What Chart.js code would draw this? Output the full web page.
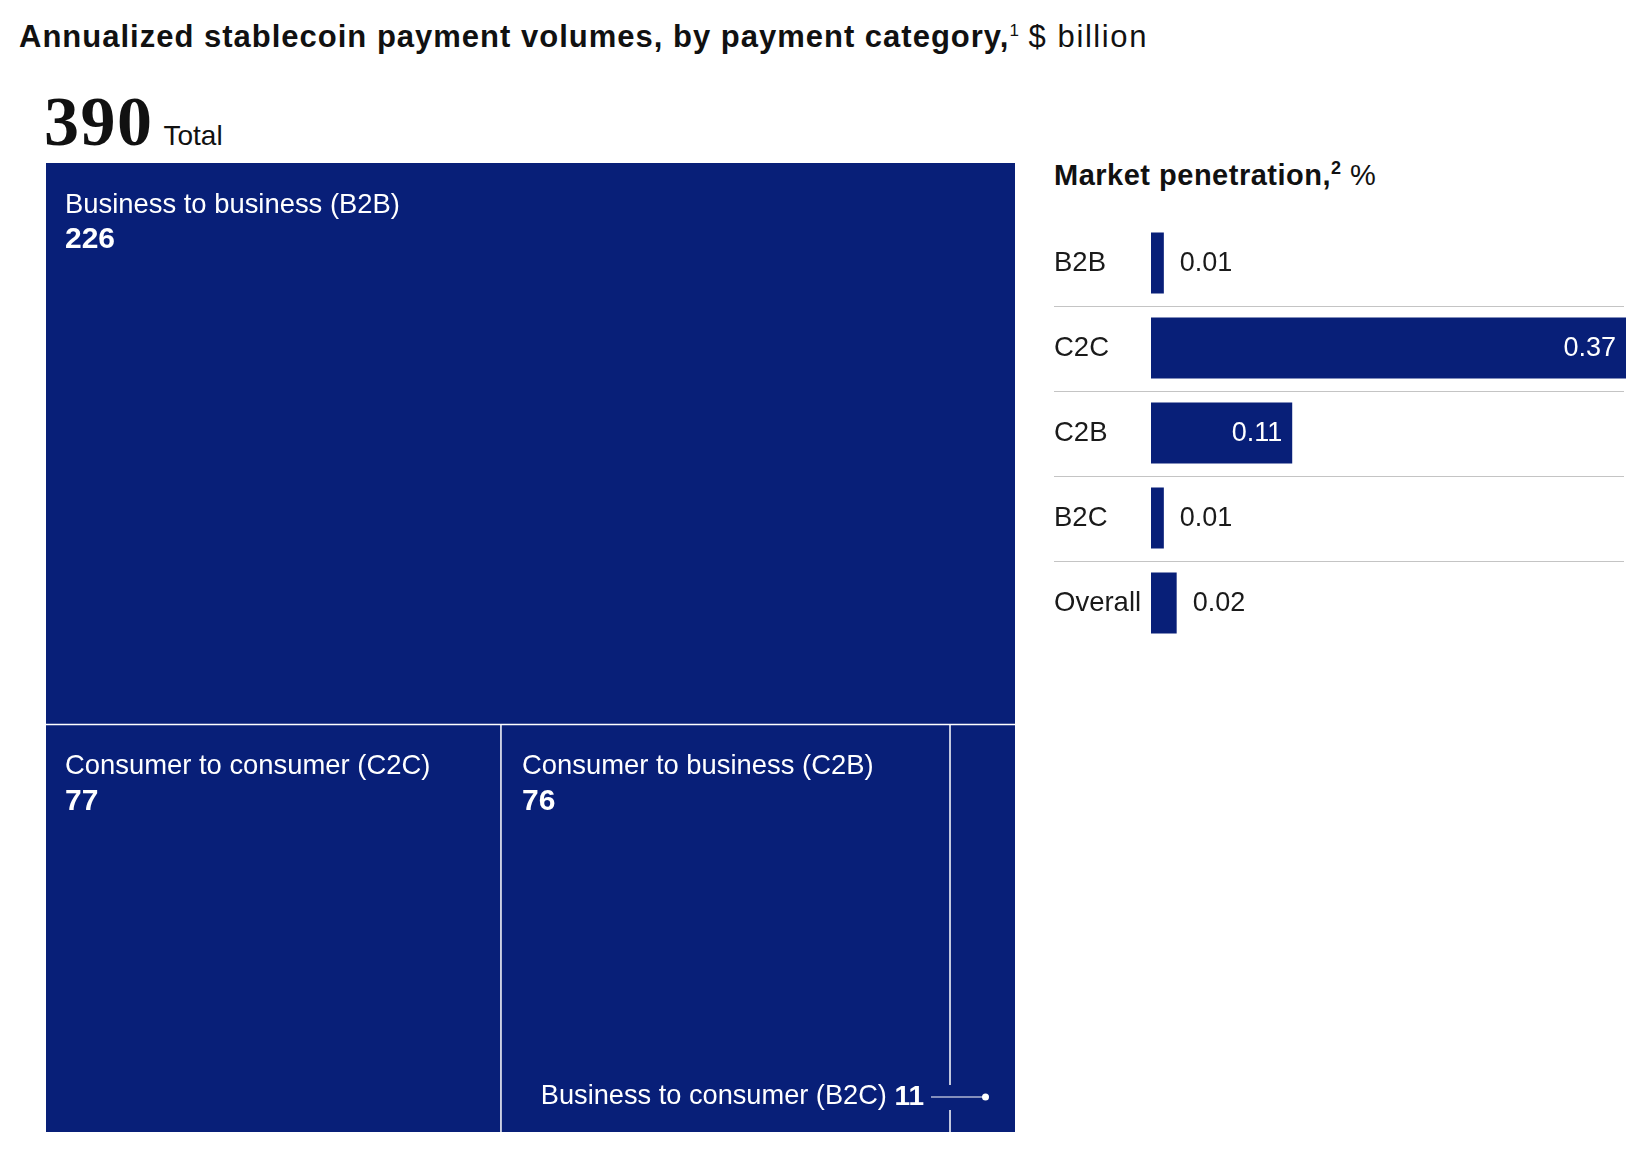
<!DOCTYPE html>
<html>
<head>
<meta charset="utf-8">
<script src="https://cdn.jsdelivr.net/npm/chart.js@4.4.1/dist/chart.umd.min.js"></script>
<style>
  body { margin:0; background:#fff; width:1643px; height:1156px; position:relative; overflow:hidden;
         font-family:"Liberation Sans", Arial, sans-serif; color:#111; }
  #titulo { position:absolute; left:19px; top:19px; font-size:31px; line-height:36px; font-weight:bold; white-space:nowrap; letter-spacing:1px; }
  #titulo sup { font-size:17px; font-weight:normal; vertical-align:11px; line-height:0; letter-spacing:0; }
  #titulo .unidad { font-weight:normal; letter-spacing:1.6px; }
  #total { position:absolute; left:44px; top:82px; white-space:nowrap; line-height:80px; }
  #total .numero { font-family:"Liberation Serif", serif; font-weight:bold; font-size:70px; letter-spacing:1.5px; }
  #total .texto { font-size:28px; margin-left:10px; }
  #div_treemap { position:absolute; left:46px; top:163px; width:969px; height:969px; }
  #titulo_pen { position:absolute; left:1054px; top:157px; font-size:29px; line-height:36px; font-weight:bold; white-space:nowrap; letter-spacing:0.5px; }
  #titulo_pen sup { font-size:18px; vertical-align:11px; line-height:0; }
  #titulo_pen .unidad { font-weight:normal; }
  #div_pen { position:absolute; left:1054px; top:204px; width:589px; height:458px; }
</style>
</head>
<body>
<div id="titulo">Annualized stablecoin payment volumes, by payment category,<sup>1</sup> <span class="unidad">$ billion</span></div>
<div id="total"><span class="numero"></span><span class="texto">Total</span></div>
<div id="div_treemap"><canvas id="grafico_treemap"></canvas></div>
<div id="titulo_pen">Market penetration,<sup>2</sup> <span class="unidad">%</span></div>
<div id="div_pen"><canvas id="grafico_pen"></canvas></div>

<script>
// datos del treemap ($ billion)
var categorias_volumen = ['Business to business (B2B)', 'Consumer to consumer (C2C)', 'Consumer to business (C2B)', 'Business to consumer (B2C)'];
var valores_volumen = [226, 77, 76, 11];
var filas_volumen = [[0], [1, 2, 3]];   // que categorias van en cada fila

// datos de penetracion (%)
var categorias_pen = ['B2B', 'C2C', 'C2B', 'B2C', 'Overall'];
var valores_pen = [0.01, 0.37, 0.11, 0.01, 0.02];
var etiquetas_pen = ['0.01', '0.37', '0.11', '0.01', '0.02'];

var azul = '#081f78';
var fuente = '"Liberation Sans", Arial, sans-serif';

var total_volumen = valores_volumen.reduce(function (a, b) { return a + b; }, 0);
document.querySelector('#total .numero').textContent = total_volumen;

// arma los rectangulos en unidades de datos (x 0..1, y 0..total)
function armar_rects() {
    var rects = [];
    var y0 = 0;
    filas_volumen.forEach(function (fila) {
        var suma = 0;
        fila.forEach(function (i) { suma += valores_volumen[i]; });
        var x0 = 0;
        fila.forEach(function (i) {
            var w = valores_volumen[i] / suma;
            rects.push({ i: i, x0: x0, x1: x0 + w, y0: y0, y1: y0 + suma });
            x0 += w;
        });
        y0 += suma;
    });
    return rects;
}

var plugin_treemap = {
    id: 'treemap',
    afterDatasetsDraw: function (chart) {
        var ctx = chart.ctx;
        var sx = chart.scales.x, sy = chart.scales.y;
        var area = chart.chartArea;
        var rects = armar_rects().map(function (r) {
            return {
                i: r.i,
                left: sx.getPixelForValue(r.x0), right: sx.getPixelForValue(r.x1),
                top: sy.getPixelForValue(r.y0), bottom: sy.getPixelForValue(r.y1)
            };
        });
        ctx.save();
        rects.forEach(function (r) {
            ctx.fillStyle = azul;
            ctx.fillRect(r.left, r.top, r.right - r.left, r.bottom - r.top);
        });
        ctx.strokeStyle = '#ffffff';
        ctx.lineWidth = 1.5;
        rects.forEach(function (r) {
            var chico = (r.right - r.left) < 150;
            var yLinea = r.bottom - 35;
            if (r.top > area.top + 1) {
                ctx.beginPath(); ctx.moveTo(r.left, r.top); ctx.lineTo(r.right, r.top); ctx.stroke();
            }
            if (r.left > area.left + 1) {
                ctx.beginPath();
                if (chico) {
                    ctx.moveTo(r.left, r.top); ctx.lineTo(r.left, yLinea - 12);
                    ctx.moveTo(r.left, yLinea + 13); ctx.lineTo(r.left, r.bottom);
                } else {
                    ctx.moveTo(r.left, r.top); ctx.lineTo(r.left, r.bottom);
                }
                ctx.stroke();
            }
            ctx.fillStyle = '#ffffff';
            ctx.textBaseline = 'middle';
            if (!chico) {
                var xTxt = r.left + (r.left > area.left + 1 ? 21 : 19);
                ctx.textAlign = 'left';
                ctx.font = '27.4px ' + fuente;
                ctx.fillText(categorias_volumen[r.i], xTxt, r.top + 42);
                ctx.font = 'bold 30px ' + fuente;
                ctx.fillText(String(valores_volumen[r.i]), xTxt, r.top + 77);
            } else {
                var xFin = r.left - 26;
                ctx.textAlign = 'right';
                ctx.font = 'bold 28px ' + fuente;
                var txtValor = String(valores_volumen[r.i]);
                ctx.fillText(txtValor, xFin, yLinea);
                var wValor = ctx.measureText(txtValor).width;
                ctx.font = '27.2px ' + fuente;
                ctx.fillText(categorias_volumen[r.i] + ' ', xFin - wValor, yLinea);
                var xPunto = (r.left + r.right) / 2 + 3;
                ctx.lineWidth = 1.2;
                ctx.beginPath(); ctx.moveTo(r.left - 19, yLinea); ctx.lineTo(xPunto, yLinea); ctx.stroke();
                ctx.beginPath(); ctx.arc(xPunto, yLinea, 3.5, 0, Math.PI * 2); ctx.fill();
                ctx.lineWidth = 1.5;
            }
        });
        ctx.restore();
    }
};

var grafico_treemap = new Chart(document.getElementById('grafico_treemap'), {
    type: 'scatter',
    data: { datasets: [{ label: 'volumen', data: [] }] },
    options: {
        responsive: true,
        maintainAspectRatio: false,
        animation: false,
        layout: { padding: 0 },
        plugins: { legend: { display: false }, tooltip: { enabled: false } },
        scales: {
            x: { type: 'linear', min: 0, max: 1, display: false },
            y: { type: 'linear', min: 0, max: total_volumen, reverse: true, display: false }
        }
    },
    plugins: [plugin_treemap]
});

// separadores y etiquetas de valor para las barras
var plugin_pen = {
    id: 'pen',
    beforeDatasetsDraw: function (chart) {
        var ctx = chart.ctx, sy = chart.scales.y;
        ctx.save();
        ctx.strokeStyle = '#c4c4c4';
        ctx.lineWidth = 1;
        for (var i = 1; i < categorias_pen.length; i++) {
            var yy = Math.round((sy.getPixelForValue(i - 1) + sy.getPixelForValue(i)) / 2) + 0.5;
            ctx.beginPath(); ctx.moveTo(sy.left, yy); ctx.lineTo(chart.chartArea.right - 2, yy); ctx.stroke();
        }
        ctx.restore();
    },
    afterDatasetsDraw: function (chart) {
        var ctx = chart.ctx;
        var meta = chart.getDatasetMeta(0);
        ctx.save();
        ctx.font = '27px ' + fuente;
        ctx.textBaseline = 'middle';
        meta.data.forEach(function (bar, i) {
            var txt = etiquetas_pen[i];
            var ancho = bar.x - bar.base;
            var wTxt = ctx.measureText(txt).width;
            if (wTxt + 24 < ancho) {
                ctx.fillStyle = '#ffffff';
                ctx.textAlign = 'right';
                ctx.fillText(txt, bar.x - 10, bar.y + 1);
            } else {
                ctx.fillStyle = '#1a1a1a';
                ctx.textAlign = 'left';
                ctx.fillText(txt, bar.x + 16, bar.y + 1);
            }
        });
        ctx.restore();
    }
};

var grafico_pen = new Chart(document.getElementById('grafico_pen'), {
    type: 'bar',
    data: {
        labels: categorias_pen,
        datasets: [{
            label: 'Market penetration',
            data: valores_pen,
            backgroundColor: azul,
            borderWidth: 0,
            barPercentage: 0.72,
            categoryPercentage: 1
        }]
    },
    options: {
        indexAxis: 'y',
        responsive: true,
        maintainAspectRatio: false,
        animation: false,
        layout: { padding: { left: 0, right: 17, top: 0, bottom: 0 } },
        plugins: { legend: { display: false }, tooltip: { enabled: false } },
        scales: {
            x: { min: 0, max: 0.37, display: false },
            y: {
                grid: { display: false },
                border: { display: false },
                ticks: { crossAlign: 'far', color: '#1a1a1a', font: { family: fuente, size: 27.5 }, padding: 0 },
                afterFit: function (s) { s.width = 97; }
            }
        }
    },
    plugins: [plugin_pen]
});
</script>
</body>
</html>
